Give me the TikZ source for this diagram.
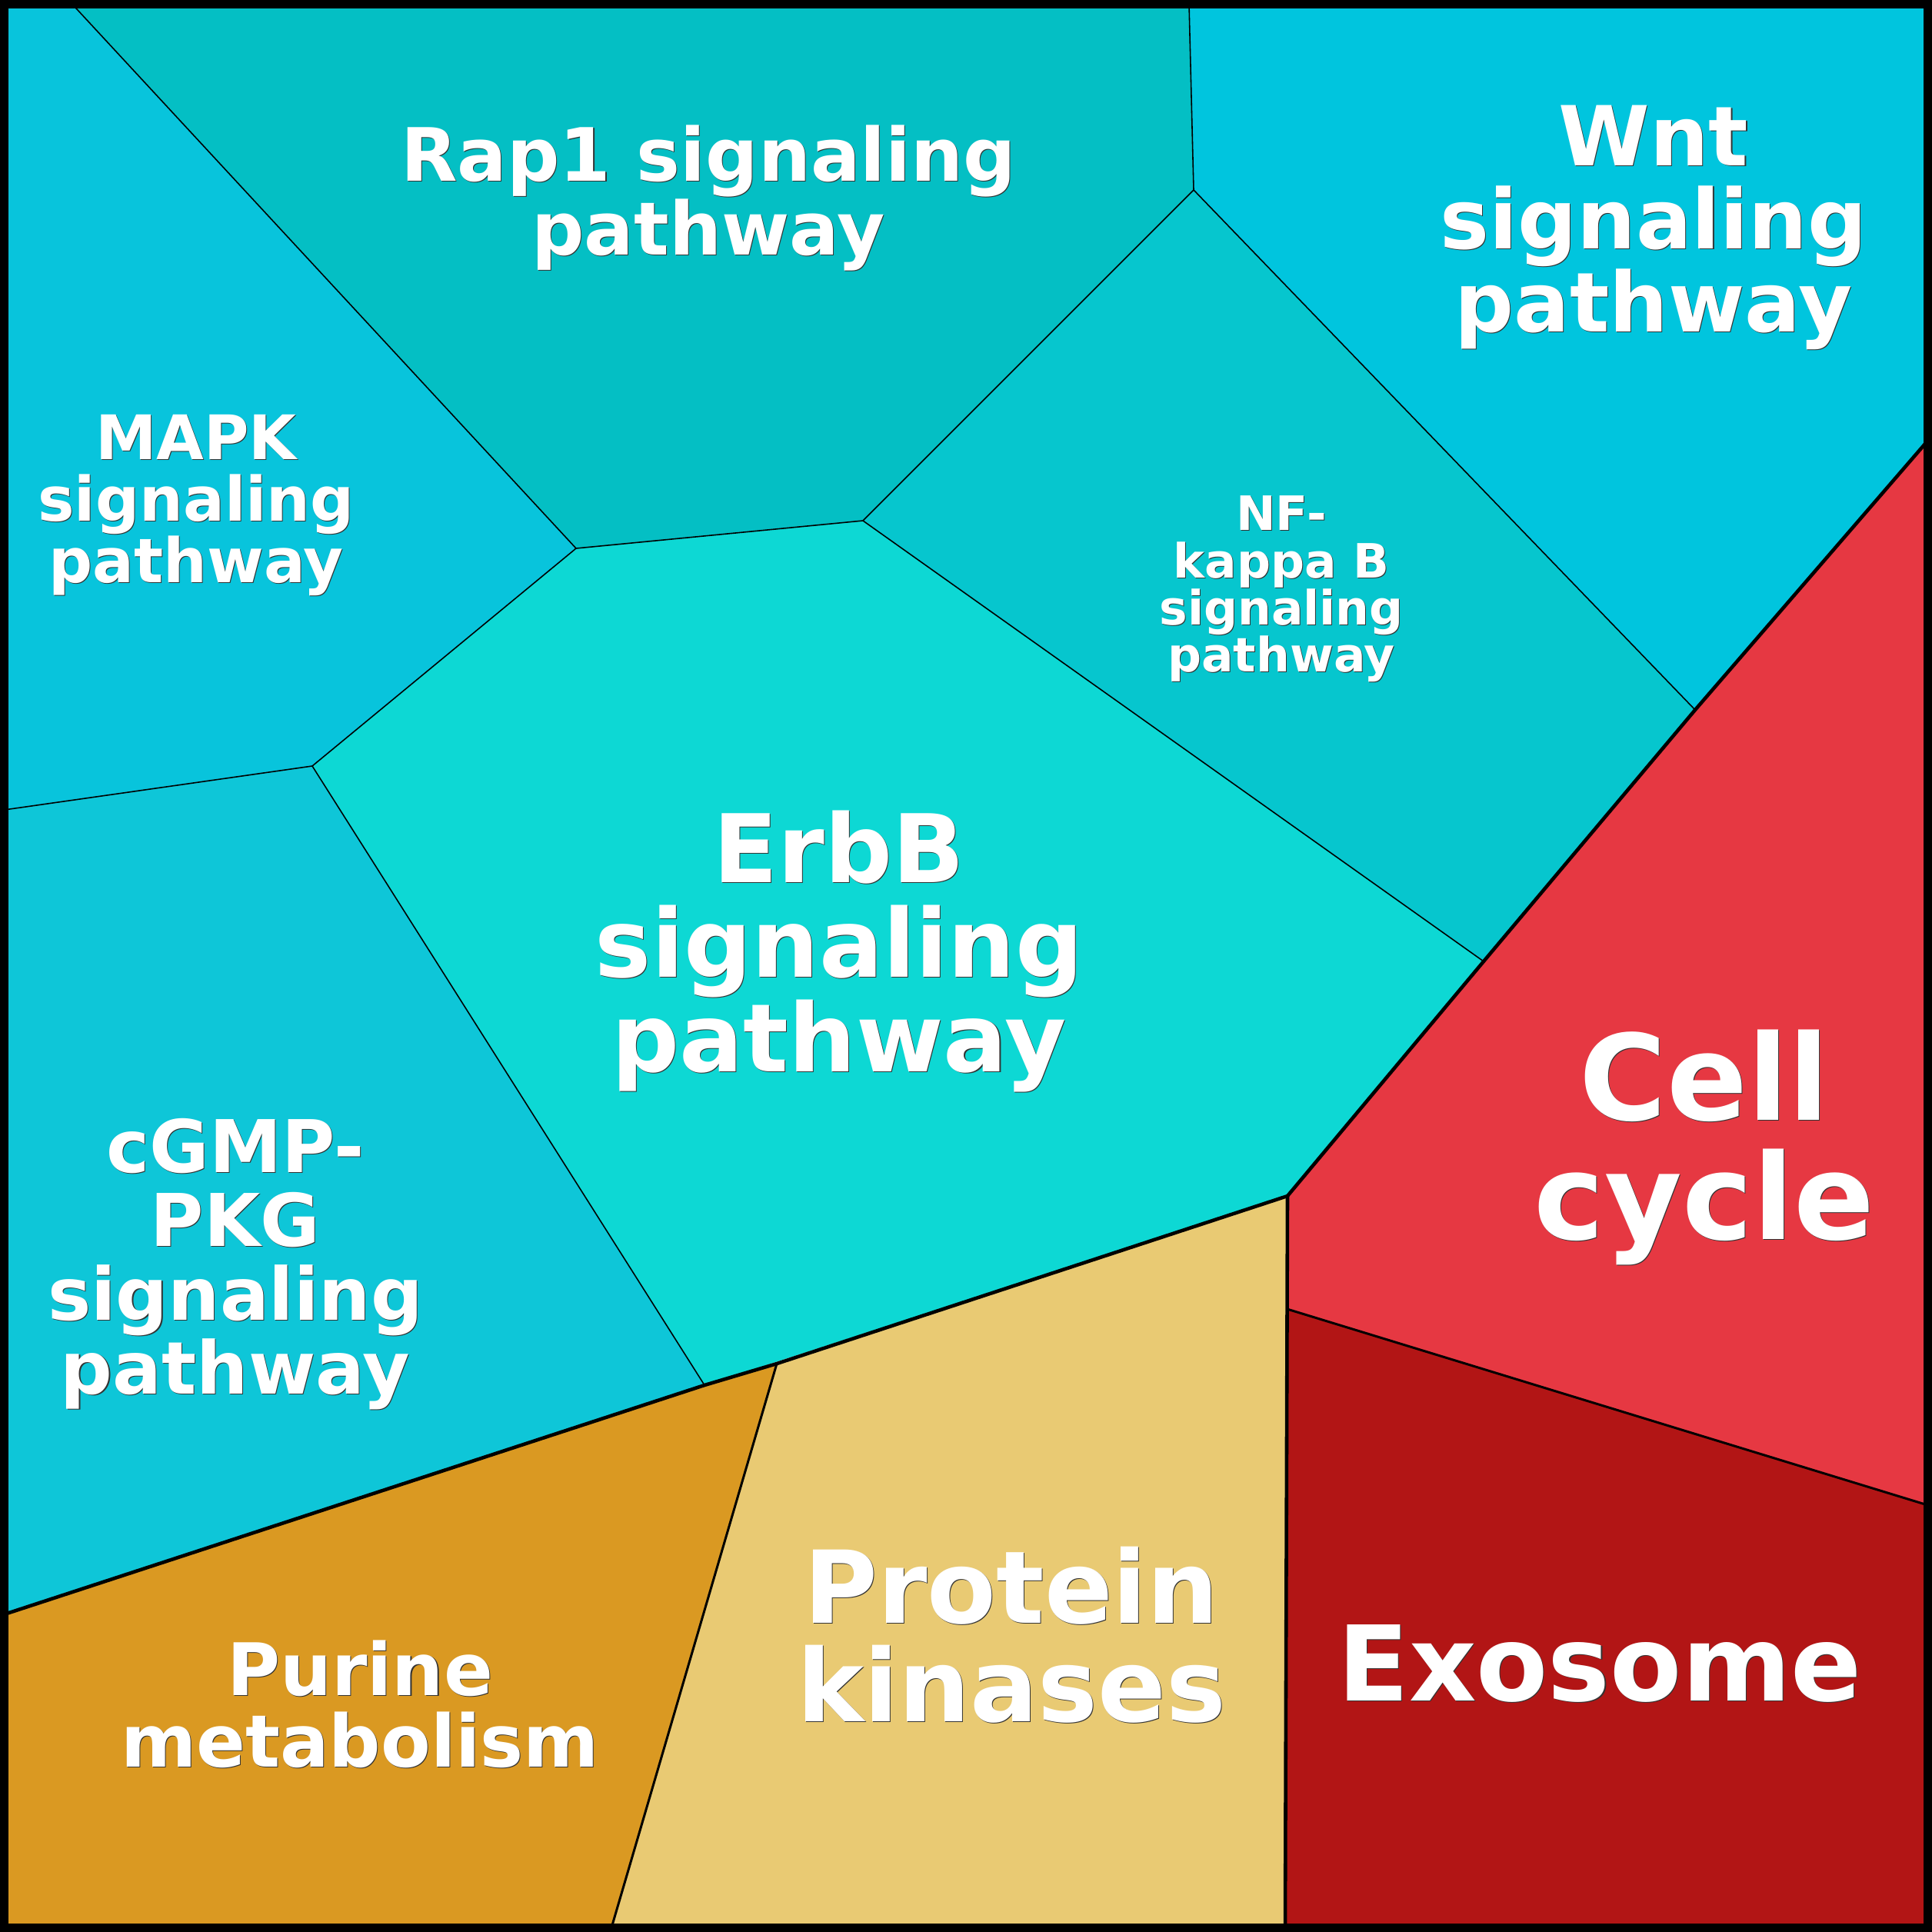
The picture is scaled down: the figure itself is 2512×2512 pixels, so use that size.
\documentclass[tikz,border=0pt]{standalone}
\usepackage{fontspec}
\setmainfont{DejaVu Sans}
\begin{document}
\begin{tikzpicture}[x=0.01cm, y=-0.01cm,
    lbl/.style={text=white, align=center, inner sep=0pt},
    lblshadow/.style={lbl, text=black!80, xshift=0.3pt, yshift=-0.3pt},
    thinedge/.style={line width=0.45pt},
    midedge/.style={line width=0.85pt},
    thickedge/.style={line width=1.3pt}]
    \definecolor{rapcol}{RGB}{4,191,196}
    \definecolor{mapkcol}{RGB}{8,196,220}
    \definecolor{wntcol}{RGB}{0,197,222}
    \definecolor{nfkbcol}{RGB}{6,198,206}
    \definecolor{erbbcol}{RGB}{13,216,212}
    \definecolor{cgmpcol}{RGB}{14,198,216}
    \definecolor{cellcol}{RGB}{230,56,66}
    \definecolor{exocol}{RGB}{178,21,21}
    \definecolor{protcol}{RGB}{233,202,115}
    \definecolor{purcol}{RGB}{218,153,34}
    \useasboundingbox (0,0) rectangle (2512,2512);

    % corners and cell vertices
    \coordinate (tl) at (5.5,5.5);
    \coordinate (tr) at (2506.5,5.5);
    \coordinate (br) at (2506.5,2506.5);
    \coordinate (bl) at (5.5,2506.5);
    \coordinate (t1) at (94,5.5);
    \coordinate (t2) at (1546,5.5);
    \coordinate (l1) at (5.5,1053);
    \coordinate (l2) at (5.5,2099);
    \coordinate (r1) at (2506.5,573);
    \coordinate (r2) at (2506.5,1957);
    \coordinate (b1) at (795,2506.5);
    \coordinate (b2) at (1671,2506.5);
    \coordinate (va) at (749,713);
    \coordinate (vb) at (1122,677);
    \coordinate (vc) at (406,996);
    \coordinate (vd) at (1552,247);
    \coordinate (ve) at (2204,923);
    \coordinate (vf) at (1929,1250);
    \coordinate (vg) at (916,1801);
    \coordinate (vh) at (1010,1773);
    \coordinate (vi) at (1674,1555);
    \coordinate (vj) at (1673.5,1702);

    % cells
    \fill[mapkcol] (tl) -- (t1) -- (va) -- (vc) -- (l1) -- cycle;
    \fill[rapcol] (t1) -- (t2) -- (vd) -- (vb) -- (va) -- cycle;
    \fill[wntcol] (t2) -- (tr) -- (r1) -- (ve) -- (vd) -- cycle;
    \fill[nfkbcol] (vd) -- (ve) -- (vf) -- (vb) -- cycle;
    \fill[erbbcol] (va) -- (vb) -- (vf) -- (vi) -- (vg) -- (vc) -- cycle;
    \fill[cgmpcol] (l1) -- (vc) -- (vg) -- (l2) -- cycle;
    \fill[purcol] (l2) -- (vg) -- (vh) -- (b1) -- (bl) -- cycle;
    \fill[protcol] (vh) -- (vi) -- (b2) -- (b1) -- cycle;
    \fill[cellcol] (r1) -- (r2) -- (vj) -- (vi) -- (vf) -- (ve) -- cycle;
    \fill[exocol] (vj) -- (r2) -- (br) -- (b2) -- cycle;

    % borders
    \draw[thinedge] (t1) -- (va) -- (vb) -- (vd) -- (t2);
    \draw[thinedge] (vd) -- (ve);
    \draw[thinedge] (vb) -- (vf);
    \draw[thinedge] (l1) -- (vc) -- (va);
    \draw[thinedge] (vc) -- (vg);
    \draw[midedge] (vh) -- (b1);
    \draw[midedge] (vj) -- (r2);
    \draw[thickedge] (r1) -- (ve) -- (vf) -- (vi) -- (vh) -- (vg) -- (l2);
    \draw[thickedge] (vi) -- (b2);
    \draw[line width=3.1pt] (tl) rectangle (br);

    % labels
    \node[lblshadow, font=\bfseries\fontsize{27.2pt}{27.3pt}\selectfont] (rapsh) at (921,257) {Rap1 signaling\\pathway};
    \node[lbl, font=\bfseries\fontsize{27.2pt}{27.3pt}\selectfont] (rap) at (921,257) {Rap1 signaling\\pathway};
    \node[lblshadow, font=\bfseries\fontsize{22.7pt}{22.8pt}\selectfont] (mapksh) at (255,657) {MAPK\\signaling\\pathway};
    \node[lbl, font=\bfseries\fontsize{22.7pt}{22.8pt}\selectfont] (mapk) at (255,657) {MAPK\\signaling\\pathway};
    \node[lblshadow, font=\bfseries\fontsize{30.6pt}{30.7pt}\selectfont] (wntsh) at (2150,296) {Wnt\\signaling\\pathway};
    \node[lbl, font=\bfseries\fontsize{30.6pt}{30.7pt}\selectfont] (wnt) at (2150,296) {Wnt\\signaling\\pathway};
    \node[lblshadow, font=\bfseries\fontsize{17.5pt}{17.45pt}\selectfont] (nfkbsh) at (1666,766) {NF-\\kappa B\\signaling\\pathway};
    \node[lbl, font=\bfseries\fontsize{17.5pt}{17.45pt}\selectfont] (nfkb) at (1666,766) {NF-\\kappa B\\signaling\\pathway};
    \node[lblshadow, font=\bfseries\fontsize{35pt}{35pt}\selectfont] (erbbsh) at (1091,1237) {ErbB\\signaling\\pathway};
    \node[lbl, font=\bfseries\fontsize{35pt}{35pt}\selectfont] (erbb) at (1091,1237) {ErbB\\signaling\\pathway};
    \node[lblshadow, font=\bfseries\fontsize{26.9pt}{27.3pt}\selectfont] (cgmpsh) at (306,1644) {cGMP-\\PKG\\signaling\\pathway};
    \node[lbl, font=\bfseries\fontsize{26.9pt}{27.3pt}\selectfont] (cgmp) at (306,1644) {cGMP-\\PKG\\signaling\\pathway};
    \node[lblshadow, font=\bfseries\fontsize{26.8pt}{26.5pt}\selectfont] (pursh) at (468,2216) {Purine\\metabolism};
    \node[lbl, font=\bfseries\fontsize{26.8pt}{26.5pt}\selectfont] (pur) at (468,2216) {Purine\\metabolism};
    \node[lblshadow, font=\bfseries\fontsize{37.2pt}{36.4pt}\selectfont] (protsh) at (1315,2126) {Protein\\kinases};
    \node[lbl, font=\bfseries\fontsize{37.2pt}{36.4pt}\selectfont] (prot) at (1315,2126) {Protein\\kinases};
    \node[lblshadow, font=\bfseries\fontsize{44pt}{44.1pt}\selectfont] (cellsh) at (2216,1492) {Cell\\cycle};
    \node[lbl, font=\bfseries\fontsize{44pt}{44.1pt}\selectfont] (cell) at (2216,1492) {Cell\\cycle};
    \node[lblshadow, font=\bfseries\fontsize{38.6pt}{38.6pt}\selectfont] (exosh) at (2080,2163) {Exosome};
    \node[lbl, font=\bfseries\fontsize{38.6pt}{38.6pt}\selectfont] (exo) at (2080,2163) {Exosome};
\end{tikzpicture}
\end{document}
